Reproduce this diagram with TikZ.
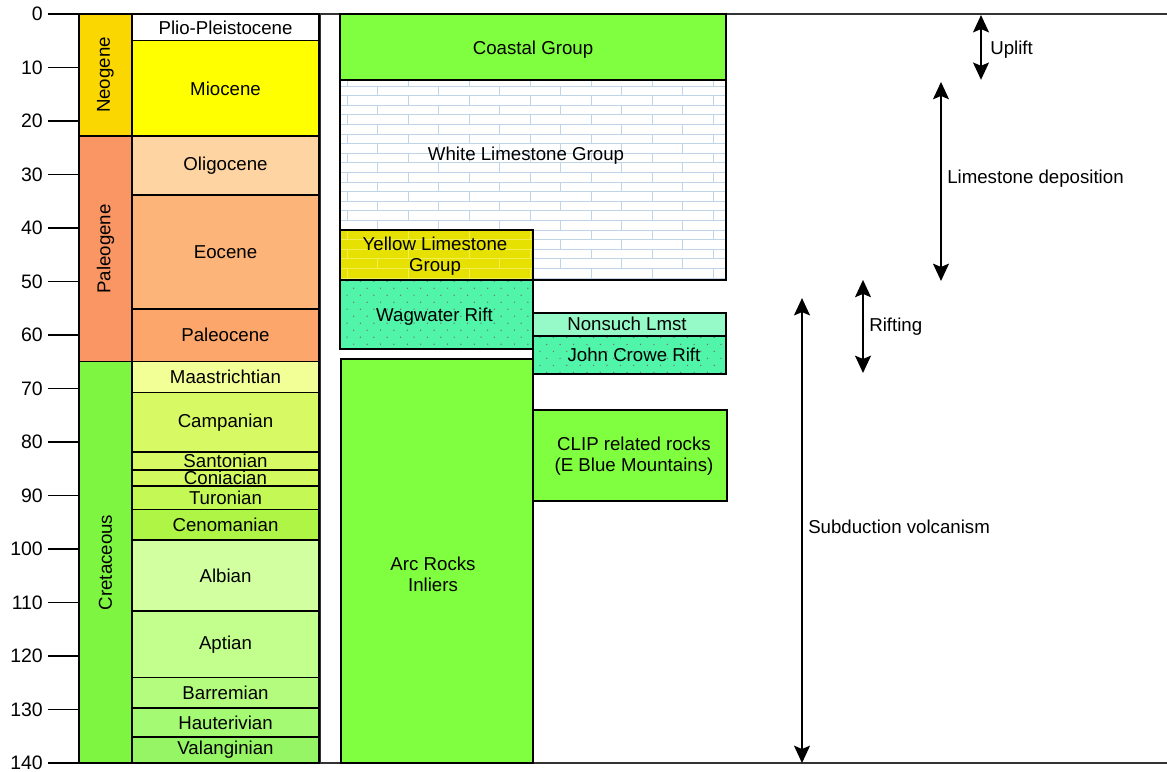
\documentclass[tikz,border=0pt]{standalone}
\usepackage{fontspec}
\setmainfont{Liberation Sans}
\usetikzlibrary{arrows.meta}

\definecolor{neogene}{RGB}{250,215,0}
\definecolor{paleogene}{RGB}{250,150,100}
\definecolor{cretaceous}{RGB}{125,245,65}
\definecolor{miocene}{RGB}{255,255,0}
\definecolor{oligocene}{RGB}{253,212,162}
\definecolor{eocene}{RGB}{252,180,120}
\definecolor{paleocene}{RGB}{252,166,108}
\definecolor{maastr}{RGB}{242,255,150}
\definecolor{campan}{RGB}{215,250,100}
\definecolor{santon}{RGB}{215,250,100}
\definecolor{coniac}{RGB}{210,250,95}
\definecolor{turon}{RGB}{195,248,85}
\definecolor{cenoman}{RGB}{175,245,70}
\definecolor{albian}{RGB}{210,255,160}
\definecolor{aptian}{RGB}{195,255,140}
\definecolor{barrem}{RGB}{180,252,125}
\definecolor{hauter}{RGB}{165,250,115}
\definecolor{valang}{RGB}{150,245,100}
\definecolor{unitgreen}{RGB}{128,255,64}
\definecolor{yellowlmst}{RGB}{230,225,0}
\definecolor{rift}{RGB}{80,245,170}
\definecolor{nonsuch}{RGB}{150,250,200}
\definecolor{brick}{RGB}{192,212,232}
\definecolor{yellowbrick}{RGB}{240,238,80}

\begin{document}
\begin{tikzpicture}[x=0.75pt, y=-4.0125pt, font=\fontsize{14}{15.75}\selectfont,
	box/.style={draw=black, line width=1.1pt},
	span/.style={line width=1.1pt, {Stealth[length=13pt,width=12pt,inset=2.5pt]}-{Stealth[length=13pt,width=12pt,inset=2.5pt]}},
	note/.style={anchor=west, inner sep=0pt}]

\useasboundingbox (0,-2.617) rectangle (1167,141.68);

% draw frame
	\draw[black!80, line width=1.1pt] (1170,0) -- (320,0) -- (320,140) -- (1170,140);

% draw age ticks
	\foreach \t in {0,10,...,140}
		\draw[line width=1.1pt] (79,\t) -- (48,\t)
			node[left, name=tick\t, font=\fontsize{14.6}{17}\selectfont] {\t};

% periods
	\foreach \ya/\yb/\clr/\lbl in {0/22.8/neogene/Neogene, 22.8/65/paleogene/Paleogene, 65/140/cretaceous/Cretaceous}
	{
		\filldraw[box, fill=\clr] (79,\ya) rectangle (132,\yb);
		\node[rotate=90] (\lbl) at (105.5,{(\ya+\yb)/2}) {\lbl};
	}

% epochs and stages
	\foreach \ya/\yb/\clr/\lbl in {0/5.0/white/Plio-Pleistocene, 5.0/22.8/miocene/Miocene,
		22.8/33.8/oligocene/Oligocene, 33.8/55.1/eocene/Eocene, 55.1/65/paleocene/Paleocene,
		65/70.7/maastr/Maastrichtian, 70.7/81.9/campan/Campanian, 81.9/85.2/santon/Santonian,
		85.2/88.2/coniac/Coniacian, 88.2/92.6/turon/Turonian, 92.6/98.3/cenoman/Cenomanian,
		98.3/111.6/albian/Albian, 111.6/124/aptian/Aptian, 124/129.7/barrem/Barremian,
		129.7/135.1/hauter/Hauterivian, 135.1/140/valang/Valanginian}
	{
		\filldraw[box, fill=\clr] (132,\ya) rectangle (319,\yb);
		\node (\lbl) at (225.5,{(\ya+\yb)/2}) {\lbl};
	}

% limestone units with brick pattern
	\fill[white] (340,12.3) rectangle (726,49.7);
	\fill[yellowlmst] (340,40.4) rectangle (533,49.7);
	\foreach \xa/\ya/\xb/\yb/\clr in {340/12.3/726/40.4/brick, 533/40.4/726/49.7/brick, 340/40.4/533/49.7/yellowbrick}
	{
		\begin{scope}
			\clip (\xa,\ya) rectangle (\xb,\yb);
			\foreach \k in {0,...,21}
			{
				\pgfmathsetmacro\ra{11.67+1.794*\k}
				\pgfmathsetmacro\rb{\ra+1.794}
				\pgfmathsetmacro\xo{347.3+30.5*mod(\k,2)}
				\draw[\clr, line width=0.6pt] (340,\rb) -- (726,\rb);
				\foreach \j in {-1,...,6}
					\draw[\clr, line width=0.6pt] ({\xo+61*\j},\ra) -- ({\xo+61*\j},\rb);
			}
		\end{scope}
	}
	\draw[box] (340,12.3) rectangle (726,49.7);
	\draw[box] (340,40.4) rectangle (533,49.7);

% green units
	\filldraw[box, fill=unitgreen] (340,0) rectangle (726,12.3);
	\filldraw[box, fill=unitgreen] (341,64.5) rectangle (533,140);
	\filldraw[box, fill=unitgreen] (533,74) rectangle (727,91);
	\filldraw[box, fill=nonsuch] (533,55.9) rectangle (726,60.2);

% rift units with dots
	\foreach \xa/\ya/\xb/\yb in {340/49.7/533/62.6, 533/60.2/726/67.3}
	{
		\fill[rift] (\xa,\ya) rectangle (\xb,\yb);
		\begin{scope}
			\clip (\xa,\ya) rectangle (\xb,\yb);
			\foreach \k in {0,...,10}
				\foreach \j in {0,...,15}
					\fill[black!55] ({\xa+7+13.4*\j+6.7*mod(\k,2)},{\ya+0.25+1.308*\k}) circle (0.55pt);
		\end{scope}
		\draw[box] (\xa,\ya) rectangle (\xb,\yb);
	}

% unit labels
	\node (coastal) at (533,6.6) {Coastal Group};
	\node (whitelmst) at (526,26.4) {White Limestone Group};
	\node[align=center] (yellowlmst) at (435,45.3) {Yellow Limestone\\Group};
	\node (wagwater) at (434.5,56.6) {Wagwater Rift};
	\node (nonsuch) at (627,57.9) {Nonsuch Lmst};
	\node (johncrowe) at (634,63.7) {John Crowe Rift};
	\node[align=center] (clip) at (634,82.6) {CLIP related rocks\\(E Blue Mountains)};
	\node[align=center] (arc) at (433,104.7) {Arc Rocks\\Inliers};

% event arrows
	\coordinate (uplift top) at (981,0.2);
	\coordinate (uplift bot) at (981,12.3);
	\coordinate (lmst top) at (941,12.7);
	\coordinate (lmst bot) at (941,49.9);
	\coordinate (rift top) at (863,49.7);
	\coordinate (rift bot) at (863,67.1);
	\coordinate (subd top) at (802,53.1);
	\coordinate (subd bot) at (802,140);
	\draw[span] (uplift top) -- (uplift bot);
	\draw[span] (lmst top) -- (lmst bot);
	\draw[span] (rift top) -- (rift bot);
	\draw[span] (subd top) -- (subd bot);

	\node[note] (uplift) at (990,6.7) {Uplift};
	\node[note] (lmstdep) at (947,30.7) {Limestone deposition};
	\node[note] (rifting) at (869,58.5) {Rifting};
	\node[note] (subduction) at (808,95.9) {Subduction volcanism};

\end{tikzpicture}
\end{document}
